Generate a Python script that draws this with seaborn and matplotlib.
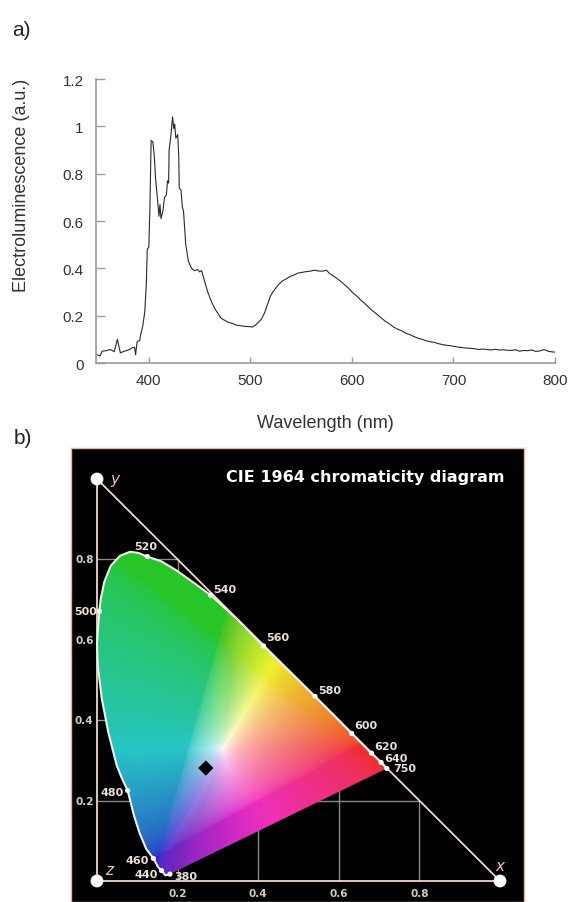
import numpy as np
import pandas as pd
import matplotlib
matplotlib.use("Agg")
import matplotlib.pyplot as plt
from matplotlib.patches import Polygon
from matplotlib.colors import rgb_to_hsv, hsv_to_rgb
import seaborn as sns

# ---------------- data: panel a (electroluminescence spectrum) ----------------
wavelength = [349, 352, 354, 358, 362, 366, 369, 372, 376, 380, 384, 386, 387, 388.5, 391,
              392, 394, 396, 397.5, 398.5, 400, 401, 402.3, 404, 405.5, 406.6, 408.4, 410,
              411, 412, 413.8, 415.5, 417.3, 418.4, 419.5, 420, 421.6, 423.4, 424.5, 425.5,
              426.6, 428.5, 429.5, 430, 431.7, 433, 434.2, 436.4, 439, 442, 445, 448, 450,
              452, 455, 458, 462, 465, 468, 471, 474, 478, 482, 486, 490, 494, 498, 502,
              505, 508, 511, 514, 517, 520, 523, 527, 531, 535, 539, 543, 547, 551, 555,
              559, 563, 567, 571, 575, 578, 581, 585, 589, 593, 597, 601, 605, 609, 613,
              617, 621, 625, 629, 633, 637, 641, 645, 649, 653, 657, 661, 665, 669, 673,
              677, 681, 685, 689, 693, 697, 701, 705, 709, 713, 717, 721, 725, 729, 733,
              737, 741, 745, 749, 753, 757, 761, 765, 769, 773, 777, 781, 785, 789, 793,
              797, 800]
intensity = [0.035, 0.030, 0.050, 0.052, 0.057, 0.048, 0.100, 0.043, 0.050, 0.055, 0.065,
             0.066, 0.035, 0.090, 0.095, 0.120, 0.155, 0.215, 0.330, 0.480, 0.490, 0.640,
             0.940, 0.935, 0.870, 0.780, 0.700, 0.620, 0.670, 0.610, 0.640, 0.700, 0.710,
             0.770, 0.760, 0.900, 0.955, 1.040, 0.990, 1.010, 0.950, 0.965, 0.870, 0.740,
             0.730, 0.660, 0.640, 0.500, 0.430, 0.400, 0.390, 0.395, 0.385, 0.390, 0.345,
             0.300, 0.256, 0.230, 0.210, 0.190, 0.182, 0.172, 0.168, 0.160, 0.158, 0.155,
             0.154, 0.152, 0.160, 0.172, 0.186, 0.212, 0.248, 0.285, 0.305, 0.328, 0.345,
             0.355, 0.365, 0.372, 0.380, 0.383, 0.386, 0.388, 0.392, 0.389, 0.388, 0.392,
             0.378, 0.370, 0.358, 0.345, 0.330, 0.315, 0.296, 0.282, 0.265, 0.250, 0.233,
             0.218, 0.205, 0.190, 0.176, 0.165, 0.152, 0.143, 0.136, 0.126, 0.120, 0.112,
             0.105, 0.100, 0.094, 0.090, 0.087, 0.082, 0.078, 0.075, 0.073, 0.070, 0.067,
             0.065, 0.063, 0.062, 0.060, 0.057, 0.059, 0.057, 0.055, 0.058, 0.055, 0.056,
             0.054, 0.053, 0.056, 0.050, 0.053, 0.052, 0.055, 0.049, 0.051, 0.057, 0.050,
             0.047, 0.046]
a_xticks = [400, 500, 600, 700, 800]
a_yticks = [0, 0.2, 0.4, 0.6, 0.8, 1.0, 1.2]
a_yticklabels = ["0", "0.2", "0.4", "0.6", "0.8", "1", "1.2"]

# ---------------- data: panel b (chromaticity diagram) ----------------
locus_x = [0.181, 0.170, 0.160, 0.152, 0.140, 0.122, 0.105, 0.092, 0.076, 0.062, 0.049,
           0.028, 0.012, 0.002, 0.000, 0.003, 0.006, 0.009, 0.018, 0.034, 0.057, 0.082,
           0.103, 0.125, 0.160, 0.198, 0.240, 0.282, 0.347, 0.413, 0.478, 0.541, 0.590,
           0.632, 0.681, 0.705, 0.719]
locus_y = [0.017, 0.014, 0.026, 0.034, 0.056, 0.080, 0.121, 0.162, 0.225, 0.255, 0.287,
           0.370, 0.453, 0.535, 0.590, 0.635, 0.671, 0.700, 0.744, 0.784, 0.809, 0.819,
           0.816, 0.807, 0.795, 0.772, 0.742, 0.711, 0.652, 0.585, 0.521, 0.459, 0.410,
           0.367, 0.318, 0.295, 0.280]
mark_nm = [380, 440, 460, 480, 500, 520, 540, 560, 580, 600, 620, 640, 750]
mark_x = [0.181, 0.160, 0.140, 0.076, 0.006, 0.125, 0.282, 0.413, 0.541, 0.632, 0.681, 0.705, 0.719]
mark_y = [0.017, 0.026, 0.056, 0.225, 0.671, 0.807, 0.711, 0.585, 0.459, 0.367, 0.318, 0.295, 0.280]
b_ticks = [0.2, 0.4, 0.6, 0.8]
vertex_x = [0, 0, 1]
vertex_y = [1, 0, 0]
vertex_names = ["y", "z", "x"]
sample_x = [0.270]
sample_y = [0.281]

# ---------------- style ----------------
sns.set_theme(style="ticks")
plt.rcParams["font.family"] = ["Liberation Sans", "DejaVu Sans"]

W, H = 573, 903
fig = plt.figure(figsize=(W / 100, H / 100), dpi=100)
fig.patch.set_facecolor("white")

# ================= panel a =================
axa = fig.add_axes([96 / W, 1 - 364 / H, 459 / W, 284 / H])
df_a = pd.DataFrame({"wl": wavelength, "el": intensity})
sns.lineplot(data=df_a, x="wl", y="el", ax=axa, color="#2a2a2a", lw=0.8,
             sort=False, estimator=None)
axa.set_xlim(348, 800)
axa.set_ylim(0, 1.2)
axa.set_xticks(a_xticks)
axa.set_xticklabels([str(t) for t in a_xticks])
axa.set_yticks(a_yticks)
axa.set_yticklabels(a_yticklabels)
for s in ["top", "right"]:
    axa.spines[s].set_visible(False)
for s in ["left", "bottom"]:
    axa.spines[s].set_color("#9a9a9a")
    axa.spines[s].set_linewidth(1.2)
axa.tick_params(axis="x", direction="in", length=4.5, width=1, color="#9a9a9a",
                labelsize=11, labelcolor="#333333", pad=7)
axa.tick_params(axis="y", direction="in", length=6.5, width=1, color="#9a9a9a",
                labelsize=11, labelcolor="#333333", pad=9)
axa.set_xlabel("Wavelength (nm)", fontsize=13, color="#333333")
axa.set_ylabel("Electroluminescence (a.u.)", fontsize=13, color="#333333")
axa.xaxis.set_label_coords(0.499, -0.211)
axa.xaxis.label.set_va("center")
axa.yaxis.set_label_coords(-0.162, 0.628)
axa.yaxis.label.set_va("center")

fig.text(12 / W, 1 - 31 / H, "a)", fontsize=15, color="#222222", va="center", ha="left")
fig.text(14 / W, 1 - 438 / H, "b)", fontsize=15, color="#222222", va="center", ha="left")

# ================= panel b =================
xlo, xhi = (71 - 97) / 403, (524 - 97) / 403
ylo, yhi = (882 - 903) / 402, (882 - 449) / 402
axb = fig.add_axes([71 / W, 0, 453 / W, 454 / H])
axb.set_facecolor("black")
axb.set_xlim(xlo, xhi)
axb.set_ylim(ylo, yhi)
axb.set_xticks([])
axb.set_yticks([])
for s in axb.spines.values():
    s.set_color("#e8b49c")
    s.set_linewidth(1.0)

# chromaticity colour field (computed from xy -> XYZ -> sRGB, softened like print)
res = 500
gx = np.linspace(xlo, xhi, res)
gy = np.linspace(ylo, yhi, res)
GX, GY = np.meshgrid(gx, gy)
Yc = np.clip(GY, 1e-3, None)
XYZ = np.stack([GX / Yc, np.ones_like(GX), (1 - GX - GY) / Yc], axis=-1)
M = np.array([[3.2406, -1.5372, -0.4986],
              [-0.9689, 1.8758, 0.0415],
              [0.0557, -0.2040, 1.0570]])
rgb = XYZ @ M.T
rgb = np.clip(rgb, 0, None)
rgb = rgb / (rgb.max(axis=-1, keepdims=True) + 1e-9)
rgb = np.where(rgb <= 0.0031308, 12.92 * rgb, 1.055 * np.power(rgb, 1 / 2.4) - 0.055)
rgb = np.clip(rgb, 0, 1)
hsv = rgb_to_hsv(rgb)
hue = hsv[..., 0]
sat = np.power(hsv[..., 1], 0.7) * 0.8
cool = np.clip((hue - 0.18) / 0.1, 0, 1) * np.clip((0.78 - hue) / 0.1, 0, 1)
violet = np.clip((hue - 0.70) / 0.05, 0, 1) * np.clip((0.88 - hue) / 0.05, 0, 1)
hsv[..., 1] = sat
hsv[..., 2] = (hsv[..., 2] * (1 - 0.28 * sat * cool) * (1 - 0.08 * sat * (1 - cool))
               * (1 - 0.22 * sat * violet))
rgb = np.clip(hsv_to_rgb(hsv), 0, 1)
im = axb.imshow(rgb, origin="lower", extent=[xlo, xhi, ylo, yhi], aspect="auto",
                zorder=2, interpolation="bilinear")
poly = Polygon(np.column_stack([locus_x, locus_y]), closed=True,
               transform=axb.transData, facecolor="none", edgecolor="none")
axb.add_patch(poly)
im.set_clip_path(poly)

# grid inside triangle
for v in b_ticks:
    axb.plot([v, v], [0, 1 - v], color="#8a8a8a", lw=1.0, zorder=1)
    axb.plot([0, 1 - v], [v, v], color="#8a8a8a", lw=1.0, zorder=1)

# triangle sides
tri_col = "#f2d6c8"
axb.plot([0, 1], [0, 0], color=tri_col, lw=1.3, zorder=1.5)
axb.plot([0, 0], [0, 1], color=tri_col, lw=1.3, zorder=1.5)
axb.plot([0, 1], [1, 0], color=tri_col, lw=1.3, zorder=1.5)

# spectral locus outline
df_loc = pd.DataFrame({"x": locus_x, "y": locus_y})
sns.lineplot(data=df_loc, x="x", y="y", ax=axb, color="#f5eeea", lw=1.5,
             sort=False, estimator=None, zorder=4)
df_mark = pd.DataFrame({"x": mark_x, "y": mark_y, "nm": mark_nm})
sns.scatterplot(data=df_mark, x="x", y="y", ax=axb, color="white", s=14,
                edgecolor="none", zorder=5)

lab_col = "#ece0d8"
offsets = {380: (3.5, -1, "left"), 440: (-2.5, -2.5, "right"), 460: (-3, -1, "right"),
           480: (-3, -1, "right"), 500: (-2, 0, "right"), 520: (-1, 7.5, "center"),
           540: (1.7, 4.3, "left"), 560: (1.7, 6, "left"), 580: (2.5, 4.9, "left"),
           600: (1.7, 6, "left"), 620: (1.9, 5.5, "left"), 640: (1.9, 3.2, "left"),
           750: (4.5, 0, "left")}
for nm, mx, my in zip(mark_nm, mark_x, mark_y):
    dx, dy, ha = offsets[nm]
    axb.annotate(str(nm), (mx, my), xytext=(dx, dy), textcoords="offset points",
                 ha=ha, va="center", fontsize=8, fontweight="bold", color=lab_col,
                 family="DejaVu Sans", zorder=6)

# tick labels of the chromaticity axes
for v in b_ticks:
    axb.annotate(f"{v:.1f}", (0, v), xytext=(-2.5, 0), textcoords="offset points",
                 ha="right", va="center", fontsize=7.5, fontweight="bold",
                 color="#d6cbc4", family="DejaVu Sans", zorder=6)
    axb.annotate(f"{v:.1f}", (v, 0), xytext=(0, -8.5), textcoords="offset points",
                 ha="center", va="center", fontsize=7.5, fontweight="bold",
                 color="#d6cbc4", family="DejaVu Sans", zorder=6)

# vertices
df_v = pd.DataFrame({"x": vertex_x, "y": vertex_y})
sns.scatterplot(data=df_v, x="x", y="y", ax=axb, color="white", s=85,
                edgecolor="none", zorder=7)
v_off = {"y": (13, 0), "z": (9, 8.6), "x": (0, 11.5)}
for vx, vy, name in zip(vertex_x, vertex_y, vertex_names):
    dx, dy = v_off[name]
    axb.annotate(name, (vx, vy), xytext=(dx, dy), textcoords="offset points",
                 ha="center", va="center", fontsize=11, style="italic",
                 color="#f0c4ae", family="DejaVu Sans", zorder=7)

# device colour coordinate
df_s = pd.DataFrame({"x": sample_x, "y": sample_y})
sns.scatterplot(data=df_s, x="x", y="y", ax=axb, color="black", marker="D", s=60,
                edgecolor="none", zorder=8)

axb.text(1.012, 1.005, "CIE 1964 chromaticity diagram", ha="right", va="center",
         fontsize=11.5, fontweight="bold", color="white", family="DejaVu Sans", zorder=8)
axb.set_xlabel("")
axb.set_ylabel("")

fig.savefig("out.png", dpi=100, facecolor="white")
